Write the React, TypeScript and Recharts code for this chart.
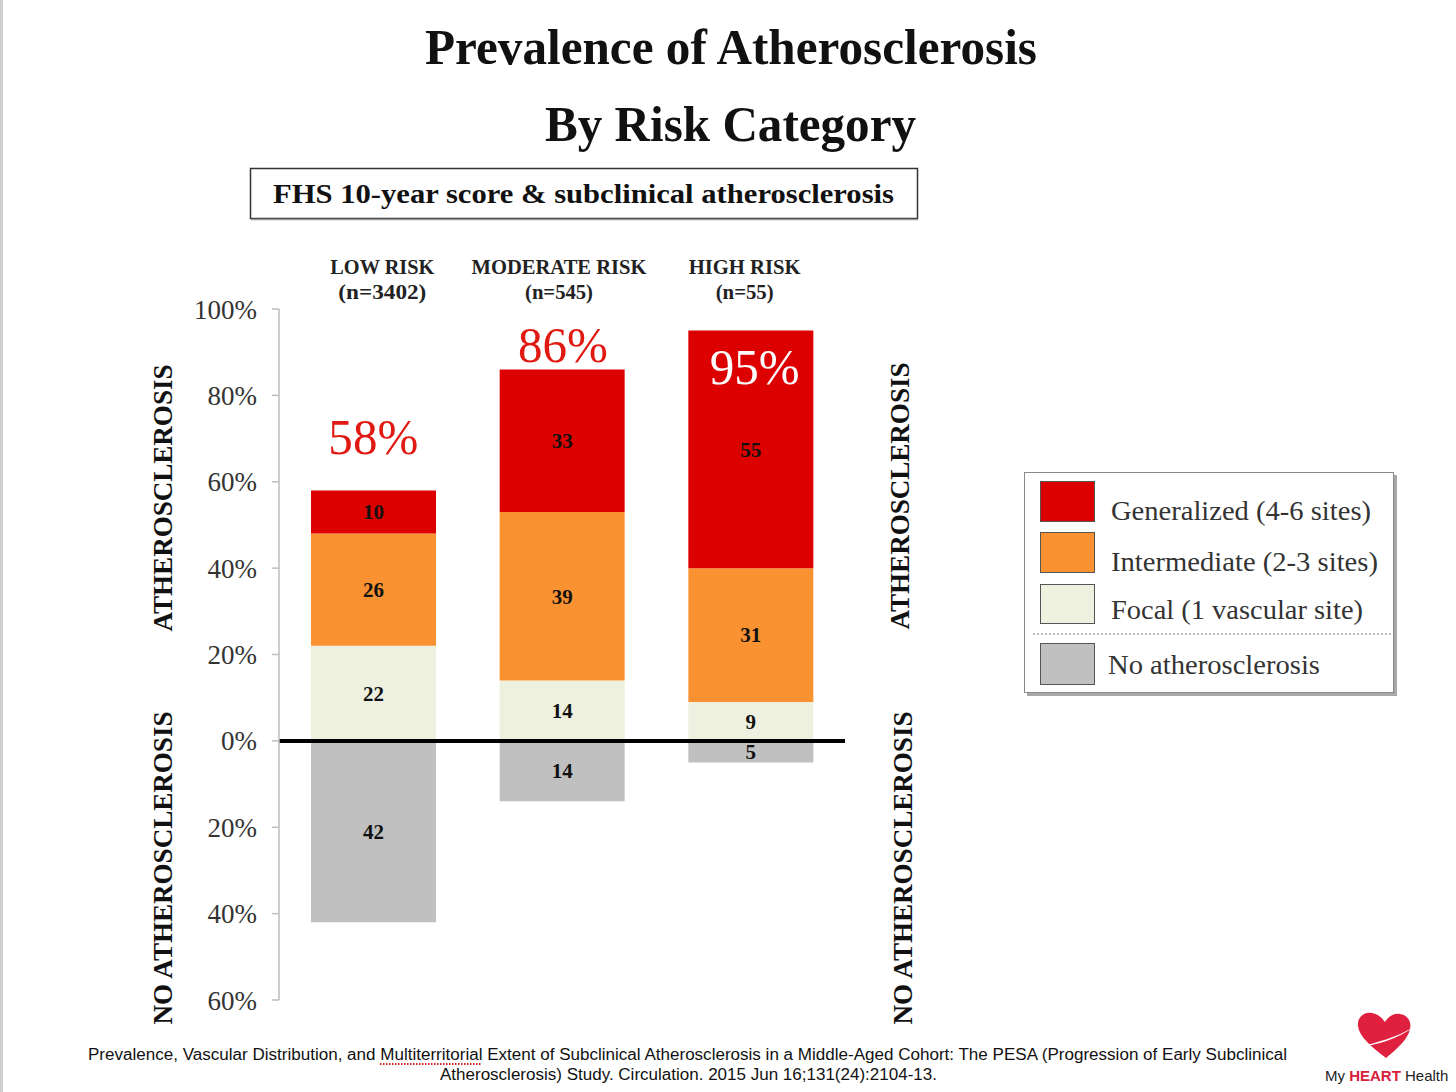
import React from 'react';
import { BarChart, Bar, XAxis, YAxis, ReferenceLine, ReferenceDot, LabelList, Legend } from 'recharts';

const categories = ['LOW RISK', 'MODERATE RISK', 'HIGH RISK'];
const sampleSizes = ['(n=3402)', '(n=545)', '(n=55)'];
const focal = [22, 14, 9];
const intermediate = [26, 39, 31];
const generalized = [10, 33, 55];
const noAtherosclerosis = [42, 14, 5];
const totalLabels = ['58%', '86%', '95%'];
const yTicks = [-60, -40, -20, 0, 20, 40, 60, 80, 100];

const legendLabels = ['Generalized (4-6 sites)', 'Intermediate (2-3 sites)', 'Focal (1 vascular site)', 'No atherosclerosis'];

const RED = '#dc0000';
const ORANGE = '#fb9232';
const FOCAL = '#eef1df';
const GRAY = '#c0c0c0';
const SERIF = '"Liberation Serif", "Times New Roman", serif';
const SANS = '"Liberation Sans", Arial, sans-serif';

const data = categories.map((c, i) => ({
  cat: c,
  focal: focal[i],
  intermediate: intermediate[i],
  generalized: generalized[i],
  none: -noAtherosclerosis[i],
}));

// annotation placement (value-space y, text colour)
const totalAnno = [
  { y: 70.4, fill: '#e01a12', dx: 0 },
  { y: 91.7, fill: '#e01a12', dx: 1 },
  { y: 86.8, fill: '#ffffff', dx: 4 },
];

// header horizontal nudges
const headerDx = [9, -3, -6];
const headerW = [104, 175, 112];
const subW = [88, 68, 58];

const centerLabel = (props: any) => {
  const { x, y, width, height, value } = props;
  if (value === undefined || value === null) return null;
  return (
    <text
      x={x + width / 2}
      y={y + height / 2}
      dy="0.35em"
      textAnchor="middle"
      fontFamily={SERIF}
      fontWeight="bold"
      fontSize={21}
      fill="#111"
    >
      {Math.abs(value)}
    </text>
  );
};

const CatTick = (props: any) => {
  const { x, y, payload } = props;
  const i = categories.indexOf(payload.value);
  return (
    <g>
      <text x={x + headerDx[i]} y={y - 35} textAnchor="middle" fontFamily={SERIF} fontWeight="bold" fontSize={20} fill="#222" textLength={headerW[i]} lengthAdjust="spacingAndGlyphs">
        {payload.value}
      </text>
      <text x={x + headerDx[i]} y={y - 10} textAnchor="middle" fontFamily={SERIF} fontWeight="bold" fontSize={20} fill="#222" textLength={subW[i]} lengthAdjust="spacingAndGlyphs">
        {sampleSizes[i]}
      </text>
    </g>
  );
};

const legendColors = [RED, ORANGE, FOCAL, GRAY];
const legendRowsY = [39, 90, 138, 193];
const swatchY = [9, 60, 112, 171];
const swatchH = [40, 40, 39, 41];
const legendTextW = [260, 267, 252, 212];

const LegendBox = () => (
  <svg width={376} height={228} style={{ display: 'block' }}>
    <rect x={3} y={3} width={370} height={221} fill="#a8a8a8" />
    <rect x={0.5} y={0.5} width={369} height={220} fill="#fff" stroke="#8a8a8a" strokeWidth={1} />
    {legendLabels.map((l, i) => (
      <g key={l}>
        <rect x={16.5} y={swatchY[i] + 0.5} width={54} height={swatchH[i]} fill={legendColors[i]} stroke="#555" strokeWidth={1} />
        <text
          x={i === 3 ? 84 : 87}
          y={legendRowsY[i]}
          dy="0.35em"
          fontFamily={SERIF}
          fontSize={27}
          fill="#333"
          textLength={legendTextW[i]}
          lengthAdjust="spacingAndGlyphs"
        >
          {l}
        </text>
      </g>
    ))}
    <line x1={9} x2={369} y1={162} y2={162} stroke="#777" strokeWidth={1} strokeDasharray="2 2" />
  </svg>
);

const RotLabel = ({ x, y, text, len }: { x: number; y: number; text: string; len: number }) => (
  <text
    x={x}
    y={y}
    dy="0.35em"
    textAnchor="middle"
    transform={`rotate(-90, ${x}, ${y})`}
    fontFamily={SERIF}
    fontWeight="bold"
    fontSize={27}
    fill="#111"
    textLength={len}
    lengthAdjust="spacingAndGlyphs"
  >
    {text}
  </text>
);

export default function App() {
  return (
    <div style={{ position: 'absolute', left: 0, top: 0, width: 1456, height: 1092, background: '#fff', overflow: 'hidden' }}>
      <BarChart
        width={1456}
        height={1092}
        data={data}
        stackOffset="sign"
        margin={{ top: 249, right: 611, bottom: 92, left: 199 }}
        barSize={125}
      >
        <XAxis
          dataKey="cat"
          orientation="top"
          height={60}
          axisLine={false}
          tickLine={false}
          tickSize={0}
          tickMargin={0}
          interval={0}
          tick={<CatTick />}
        />
        <YAxis
          type="number"
          domain={[-60, 100]}
          ticks={yTicks}
          interval={0}
          width={80}
          tickSize={7}
          tickMargin={15}
          axisLine={{ stroke: '#bdbdbd', strokeWidth: 1.5 }}
          tickLine={{ stroke: '#bdbdbd', strokeWidth: 1.5 }}
          tick={{ fontFamily: SERIF, fontSize: 27, fill: '#333' }}
          tickFormatter={(v: number) => `${Math.abs(v)}%`}
        />
        <Legend
          layout="vertical"
          align="center"
          verticalAlign="middle"
          wrapperStyle={{ left: 1024, top: 472, width: 376, height: 228 }}
          content={() => <LegendBox />}
        />
        <Bar dataKey="focal" stackId="a" fill={FOCAL} isAnimationActive={false}>
          <LabelList dataKey="focal" content={centerLabel} />
        </Bar>
        <Bar dataKey="intermediate" stackId="a" fill={ORANGE} isAnimationActive={false}>
          <LabelList dataKey="intermediate" content={centerLabel} />
        </Bar>
        <Bar dataKey="generalized" stackId="a" fill={RED} isAnimationActive={false}>
          <LabelList dataKey="generalized" content={centerLabel} />
        </Bar>
        <Bar dataKey="none" stackId="a" fill={GRAY} isAnimationActive={false}>
          <LabelList dataKey="none" content={centerLabel} />
        </Bar>
        <ReferenceLine y={0} stroke="#000" strokeWidth={4} />
        {categories.map((c, i) => (
          <ReferenceDot
            key={c}
            x={c}
            y={totalAnno[i].y}
            r={0}
            isFront
            shape={(p: any) => (
              <text
                x={p.cx + totalAnno[i].dx}
                y={p.cy}
                dy="0.35em"
                textAnchor="middle"
                fontFamily={SERIF}
                fontSize={50}
                fill={totalAnno[i].fill}
                textLength={90}
                lengthAdjust="spacingAndGlyphs"
              >
                {totalLabels[i]}
              </text>
            )}
          />
        ))}
      </BarChart>

      <svg
        width={1456}
        height={1092}
        style={{ position: 'absolute', left: 0, top: 0, pointerEvents: 'none' }}
      >
        <rect x={0} y={0} width={3} height={1092} fill="#d0d0d0" />
        <text x={731} y={64} textAnchor="middle" fontFamily={SERIF} fontWeight="bold" fontSize={50} fill="#111" textLength={612} lengthAdjust="spacingAndGlyphs">
          Prevalence of Atherosclerosis
        </text>
        <text x={730.5} y={141} textAnchor="middle" fontFamily={SERIF} fontWeight="bold" fontSize={50} fill="#111" textLength={371} lengthAdjust="spacingAndGlyphs">
          By Risk Category
        </text>
        <rect x={250.5} y={168.5} width={667} height={50} fill="none" stroke="#333" strokeWidth={1.5} />
        <line x1={251} x2={918} y1={219.5} y2={219.5} stroke="#999" strokeWidth={1.5} />
        <text x={583.5} y={203} textAnchor="middle" fontFamily={SERIF} fontWeight="bold" fontSize={28} fill="#111" textLength={621} lengthAdjust="spacingAndGlyphs">
          FHS 10-year score &amp; subclinical atherosclerosis
        </text>

        <RotLabel x={163} y={498} text="ATHEROSCLEROSIS" len={267} />
        <RotLabel x={163} y={868} text="NO ATHEROSCLEROSIS" len={313} />
        <RotLabel x={900} y={496} text="ATHEROSCLEROSIS" len={267} />
        <RotLabel x={903} y={868} text="NO ATHEROSCLEROSIS" len={313} />

        <text x={687.5} y={1060} textAnchor="middle" fontFamily={SANS} fontSize={16} fill="#111" textLength={1199} lengthAdjust="spacingAndGlyphs">
          Prevalence, Vascular Distribution, and Multiterritorial Extent of Subclinical Atherosclerosis in a Middle-Aged Cohort: The PESA (Progression of Early Subclinical
        </text>
        <text x={688.5} y={1080} textAnchor="middle" fontFamily={SANS} fontSize={16} fill="#111" textLength={497} lengthAdjust="spacingAndGlyphs">
          Atherosclerosis) Study. Circulation. 2015 Jun 16;131(24):2104-13.
        </text>
        <line x1={380} x2={481} y1={1064} y2={1064} stroke="#d62020" strokeWidth={2} strokeDasharray="1.5 1.5" />

        <path
          d="M 1386 1058 C 1372 1047, 1359 1037, 1358 1026 C 1357 1017, 1364 1012, 1372 1013 C 1378 1014, 1382 1018, 1385 1022 C 1388 1017, 1393 1013, 1400 1014 C 1407 1015, 1412 1021, 1410 1029 C 1408 1039, 1398 1048, 1386 1058 Z"
          fill="#e0203f"
        />
        <path d="M 1356 1047 Q 1388 1045 1414 1027 Q 1390 1041 1356 1047 Z" fill="#ffffff" />
        <text x={1325} y={1081} fontFamily={SANS} fontSize={15} fill="#222">
          My <tspan fontWeight="bold" fill="#d8203c">HEART</tspan> Health
        </text>
      </svg>
    </div>
  );
}
